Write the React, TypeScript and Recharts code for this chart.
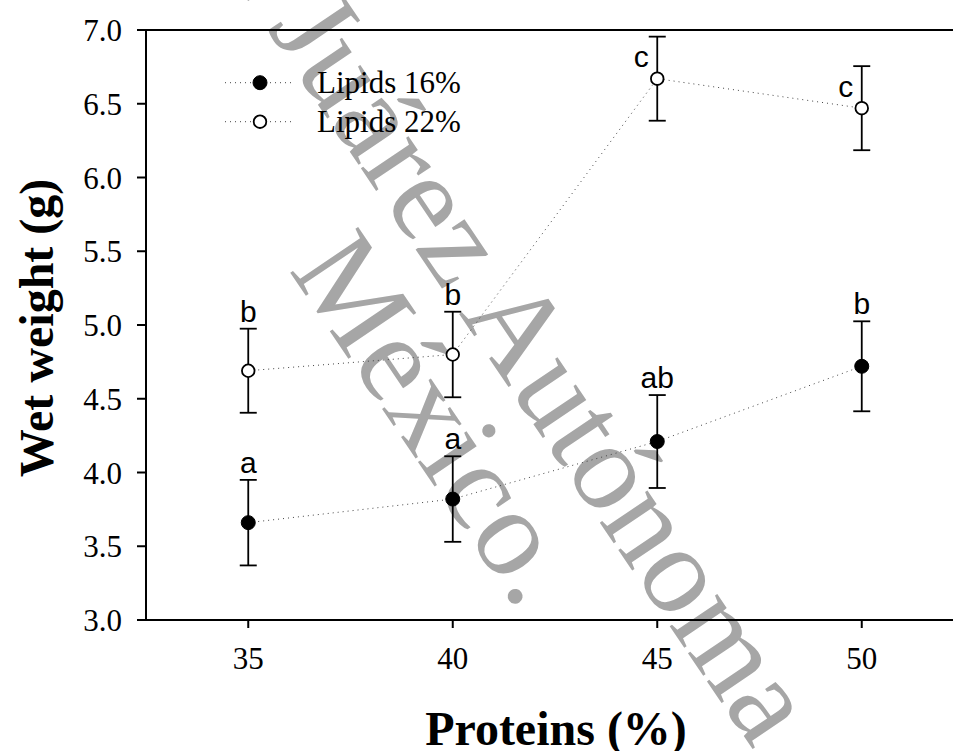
import React from "react";
import {
  LineChart,
  Line,
  XAxis,
  YAxis,
  ErrorBar,
  LabelList,
  Legend,
  ReferenceLine,
} from "recharts";

const SERIF = '"Liberation Serif", "Times New Roman", serif';
const SANS = '"Liberation Sans", Arial, sans-serif';

// Proteins (%) on the x axis
const proteins = [35, 40, 45, 50];

// Lipids 16% (filled circles)
const lipids16Mean = [3.66, 3.82, 4.21, 4.72];
const lipids16Err = [0.29, 0.29, 0.315, 0.305];
const lipids16Letters = ["a", "a", "ab", "b"];
const lipids16Side = ["top", "top", "top", "top"];

// Lipids 22% (open circles)
const lipids22Mean = [4.69, 4.8, 6.67, 6.47];
const lipids22Err = [0.285, 0.29, 0.285, 0.285];
const lipids22Letters = ["b", "b", "c", "c"];
const lipids22Side = ["top", "top", "left", "left"];

const yTicks = [3.0, 3.5, 4.0, 4.5, 5.0, 5.5, 6.0, 6.5, 7.0];
const xTicks = [35, 40, 45, 50];

const legendItems = [
  { name: "Lipids 16%", filled: true },
  { name: "Lipids 22%", filled: false },
];

const rows = proteins.map((p, i) => ({
  protein: p,
  mean16: lipids16Mean[i],
  err16: lipids16Err[i],
  mean22: lipids22Mean[i],
  err22: lipids22Err[i],
  tag16: lipids16Letters[i],
  tag22: lipids22Letters[i],
  // where the significance letter sits: above the error cap, or left of the point
  tag16Y: lipids16Side[i] === "left" ? lipids16Mean[i] : lipids16Mean[i] + lipids16Err[i],
  tag22Y: lipids22Side[i] === "left" ? lipids22Mean[i] : lipids22Mean[i] + lipids22Err[i],
}));

const tagRenderer = (sides: string[]) => (props: any) => {
  const { x, y, value, index } = props;
  if (sides[index] === "left") {
    return (
      <text x={x - 8.5} y={y - 11.5} textAnchor="end" fontFamily={SANS} fontSize={30} fill="#000">
        {value}
      </text>
    );
  }
  return (
    <text x={x} y={y - 7} textAnchor="middle" fontFamily={SANS} fontSize={30} fill="#000">
      {value}
    </text>
  );
};

function LegendBox() {
  return (
    <svg width={280} height={90} style={{ display: "block" }}>
      {legendItems.map((it, i) => (
        <g key={it.name}>
          <line
            x1={5}
            x2={75}
            y1={22.7 + 39 * i}
            y2={22.7 + 39 * i}
            stroke="#444"
            strokeWidth={1}
            strokeDasharray="1 4"
          />
          <circle
            cx={40}
            cy={22.7 + 39 * i}
            r={it.filled ? 7 : 6.3}
            fill={it.filled ? "#000" : "#fff"}
            stroke="#000"
            strokeWidth={it.filled ? 1 : 1.8}
          />
          <text x={97} y={32.7 + 39 * i} fontFamily={SERIF} fontSize={31} fill="#000">
            {it.name}
          </text>
        </g>
      ))}
    </svg>
  );
}

// repository watermark, sits underneath the chart
function Watermark() {
  return (
    <svg
      width={953}
      height={751}
      style={{ position: "absolute", left: 0, top: 0, pointerEvents: "none" }}
    >
      <g transform="translate(503,379) rotate(56)" fill="#a6a6a6" fontFamily={SERIF} fontSize={125}>
        <text x={0} y={0} textAnchor="middle">
          Universidad Juárez Autónoma de Tabasco.
        </text>
        <text x={-4} y={117} textAnchor="middle">
          México.
        </text>
      </g>
    </svg>
  );
}

export default function App() {
  const axisStroke = { stroke: "#000", strokeWidth: 2 };
  const tickStyle = { fontFamily: SERIF, fontSize: 31, fill: "#000" };

  return (
    <div
      style={{
        position: "absolute",
        left: 0,
        top: 0,
        width: 953,
        height: 751,
        overflow: "hidden",
        background: "#fff",
      }}
    >
      <Watermark />
      <div style={{ position: "relative" }}>
        <LineChart width={964} height={751} data={rows} margin={{ top: 30, right: 0, bottom: 0, left: 0 }}>
          <XAxis
            dataKey="protein"
            type="number"
            domain={[32.5, 52.5]}
            ticks={xTicks}
            height={131}
            tickSize={8}
            tickMargin={19}
            axisLine={axisStroke}
            tickLine={axisStroke}
            tick={tickStyle}
            label={{
              content: (p: any) => {
                const vb = p.viewBox || { x: 146, width: 818 };
                return (
                  <text
                    x={vb.x + vb.width / 2 + 1}
                    y={745}
                    textAnchor="middle"
                    fontFamily={SERIF}
                    fontWeight="bold"
                    fontSize={48}
                    fill="#000"
                  >
                    Proteins (%)
                  </text>
                );
              },
            }}
          />
          <YAxis
            type="number"
            domain={[3, 7]}
            ticks={yTicks}
            width={146}
            tickSize={9}
            tickMargin={15}
            axisLine={axisStroke}
            tickLine={axisStroke}
            tick={tickStyle}
            tickFormatter={(v: number) => v.toFixed(1)}
            label={{
              content: (p: any) => {
                const vb = p.viewBox || { y: 30, height: 590 };
                const cy = vb.y + vb.height / 2 + 3;
                return (
                  <text
                    x={53}
                    y={cy}
                    transform={`rotate(-90, 53, ${cy})`}
                    textAnchor="middle"
                    fontFamily={SERIF}
                    fontWeight="bold"
                    fontSize={48}
                    fill="#000"
                  >
                    Wet weight (g)
                  </text>
                );
              },
            }}
          />
          <ReferenceLine y={7} stroke="#000" strokeWidth={2} />
          <Legend
            layout="vertical"
            align="center"
            verticalAlign="middle"
            wrapperStyle={{ left: 220, top: 60, width: 280, height: 90 }}
            content={() => <LegendBox />}
          />

          <Line
            dataKey="mean16"
            name="Lipids 16%"
            stroke="#444"
            strokeWidth={1}
            strokeDasharray="1 4"
            isAnimationActive={false}
            dot={{ r: 7, fill: "#000", stroke: "#000", strokeWidth: 1, strokeDasharray: "none" }}
            activeDot={false}
          >
            <ErrorBar dataKey="err16" direction="y" width={8.5} stroke="#000" strokeWidth={1.8} />
          </Line>
          <Line
            dataKey="mean22"
            name="Lipids 22%"
            stroke="#444"
            strokeWidth={1}
            strokeDasharray="1 4"
            isAnimationActive={false}
            dot={{ r: 6.3, fill: "#fff", stroke: "#000", strokeWidth: 1.8, strokeDasharray: "none" }}
            activeDot={false}
          >
            <ErrorBar dataKey="err22" direction="y" width={8.5} stroke="#000" strokeWidth={1.8} />
          </Line>

          <Line
            dataKey="tag16Y"
            stroke="none"
            dot={false}
            activeDot={false}
            legendType="none"
            isAnimationActive={false}
          >
            <LabelList dataKey="tag16" content={tagRenderer(lipids16Side)} />
          </Line>
          <Line
            dataKey="tag22Y"
            stroke="none"
            dot={false}
            activeDot={false}
            legendType="none"
            isAnimationActive={false}
          >
            <LabelList dataKey="tag22" content={tagRenderer(lipids22Side)} />
          </Line>
        </LineChart>
      </div>
    </div>
  );
}
